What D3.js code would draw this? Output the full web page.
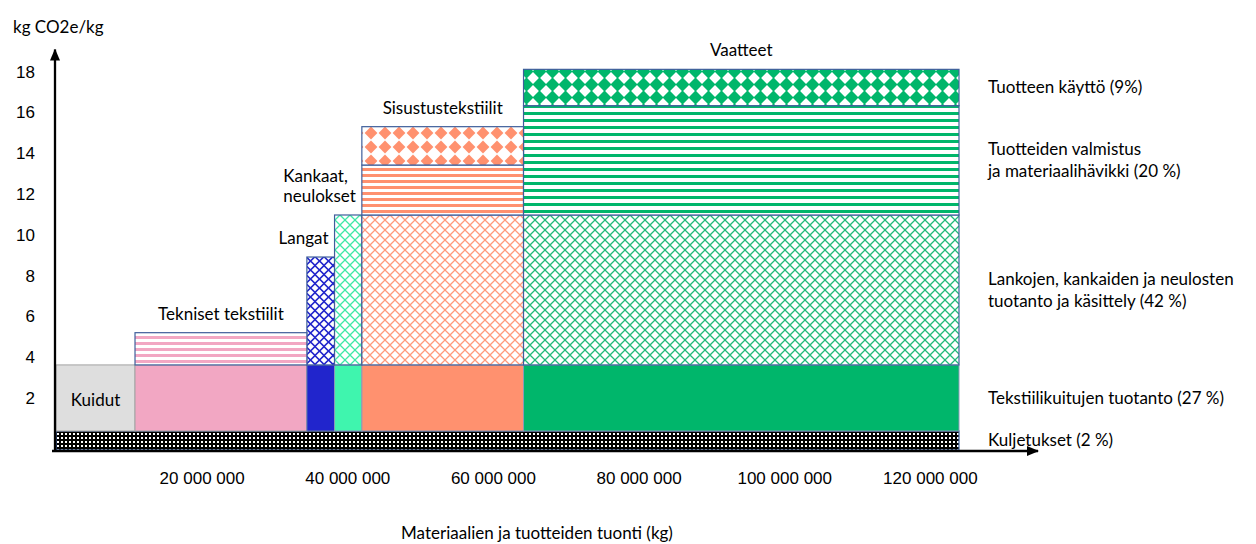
<!DOCTYPE html>
<html lang="fi">
<head>
<meta charset="utf-8">
<script src="https://cdn.jsdelivr.net/npm/d3@7"></script>
<style>
  html, body { margin: 0; padding: 0; background: #fff; }
  svg { display: block; font-family: Lato, "Noto Sans", sans-serif; }
</style>
</head>
<body>
<div id="chart"></div>
<script>
// product groups along the x axis
const categories = ["Kuidut", "Tekniset tekstiilit", "Langat", "Kankaat, neulokset", "Sisustustekstiilit", "Vaatteet"]
const categoryLines = [["Kuidut"], ["Tekniset tekstiilit"], ["Langat"], ["Kankaat,", "neulokset"], ["Sisustustekstiilit"], ["Vaatteet"]]

// imports per group (kg) -> block widths
const imports = [10.85e6, 23.6e6, 3.8e6, 3.75e6, 22.2e6, 59.8e6]

// emission layers per group (kg CO2e/kg) -> stacked heights
const fibre = [3.24, 3.24, 3.24, 3.24, 3.24, 3.24]
const yarn = [0, 0, 5.29, 7.35, 7.35, 7.35]
const making = [0, 1.58, 0, 0, 2.45, 5.36]
const use = [0, 0, 0, 0, 1.88, 1.78]

// transport band running under every group
const transportBottom = -0.55
const transportTop = 0.38

const layerKeys = ["fibre", "yarn", "making", "use"]
const legendLabels = {
  use: ["Tuotteen käyttö (9%)"],
  making: ["Tuotteiden valmistus", "ja materiaalihävikki (20 %)"],
  yarn: ["Lankojen, kankaiden ja neulosten", "tuotanto ja käsittely (42 %)"],
  fibre: ["Tekstiilikuitujen tuotanto (27 %)"],
  transport: ["Kuljetukset (2 %)"]
}

const yTicks = [2, 4, 6, 8, 10, 12, 14, 16, 18]
const xTicks = [20e6, 40e6, 60e6, 80e6, 100e6, 120e6]

// styles
const catColors = ["#dedede", "#f2a7c3", "#2125cc", "#3ff5ae", "#ff916f", "#00b66b"]
const latticeColors = ["#dedede", "#f2a7c3", "#2125cc", "#3ee8a6", "#ff9a7b", "#22b97a"]
const solidStrokes = ["#a3a3a3", "#a3a3a3", "#6f7fa8", "#8a9ab8", "#8a9ab8", "#8a9ab8"]
const patternStroke = "#3f5f9b"

const width = 1256
const height = 544
const fontSize = 17

const svg = d3.select("#chart")
  .append("svg")
  .attr("width", width)
  .attr("height", height)
  .attr("viewBox", `0 0 ${width} ${height}`)

const total = d3.sum(imports)
const x = d3.scaleLinear().domain([0, total]).range([56, 959])
const y = d3.scaleLinear().domain([-0.6, 18]).range([451, 71.6])

const starts = imports.map((v, i) => d3.sum(imports.slice(0, i)))

// ---- patterns
const defs = svg.append("defs")

const dots = defs.append("pattern").attr("id", "dots")
  .attr("patternUnits", "userSpaceOnUse").attr("width", 4).attr("height", 4)
dots.append("rect").attr("width", 4).attr("height", 4).attr("fill", "#000")
dots.append("rect").attr("x", 1).attr("y", 1).attr("width", 2).attr("height", 2).attr("fill", "#fff")

function lattice(id, color, size, w) {
  const p = defs.append("pattern").attr("id", id)
    .attr("patternUnits", "userSpaceOnUse").attr("width", size).attr("height", size)
  p.append("rect").attr("width", size).attr("height", size).attr("fill", "#fff")
  const h = size / 2
  p.append("path")
    .attr("d", `M${h},0L${size},${h}L${h},${size}L0,${h}Z`)
    .attr("fill", "none").attr("stroke", color).attr("stroke-width", w)
}

function stripes(id, color, period, thick) {
  const p = defs.append("pattern").attr("id", id)
    .attr("patternUnits", "userSpaceOnUse").attr("width", 8).attr("height", period)
  p.append("rect").attr("width", 8).attr("height", period).attr("fill", "#fff")
  p.append("rect").attr("width", 8).attr("height", thick).attr("fill", color)
}

function diamonds(id, color, size, r) {
  const p = defs.append("pattern").attr("id", id)
    .attr("patternUnits", "userSpaceOnUse").attr("width", size).attr("height", size)
  p.append("rect").attr("width", size).attr("height", size).attr("fill", "#fff")
  const h = size / 2
  p.append("path")
    .attr("d", `M${h},${h - r}L${h + r},${h}L${h},${h + r}L${h - r},${h}Z`)
    .attr("fill", color)
}

categories.forEach((c, i) => {
  lattice(`yarn-${i}`, latticeColors[i], i === 2 ? 9 : 10, i === 2 ? 1.6 : 1.25)
  stripes(`making-${i}`, catColors[i], i === 5 ? 7 : 6, 3)
  diamonds(`use-${i}`, catColors[i], i === 5 ? 13 : 14, i === 5 ? 7.1 : 6.4)
})

function fillFor(key, i) {
  if (key === "fibre") return catColors[i]
  return `url(#${key}-${i})`
}

// ---- transport band
svg.append("rect")
  .attr("x", x(0))
  .attr("y", y(transportTop))
  .attr("width", x(total) - x(0))
  .attr("height", y(transportBottom) - y(transportTop))
  .attr("fill", "url(#dots)")
  .attr("stroke", patternStroke)
  .attr("stroke-width", 1.2)

// ---- stacked blocks
const rows = categories.map((c, i) => ({
  i, category: c, fibre: fibre[i], yarn: yarn[i], making: making[i], use: use[i]
}))
const series = d3.stack().keys(layerKeys)(rows)

series.forEach(s => {
  svg.append("g")
    .selectAll("rect")
    .data(s.filter(d => d[1] - d[0] > 0))
    .join("rect")
    .attr("x", d => x(starts[d.data.i]))
    .attr("width", d => x(starts[d.data.i] + imports[d.data.i]) - x(starts[d.data.i]))
    .attr("y", d => y(transportTop + d[1]))
    .attr("height", d => y(transportTop + d[0]) - y(transportTop + d[1]))
    .attr("fill", d => fillFor(s.key, d.data.i))
    .attr("stroke", d => s.key === "fibre" ? solidStrokes[d.data.i] : patternStroke)
    .attr("stroke-width", s.key === "fibre" ? 1 : 1.2)
})

// ---- axes (arrows)
const arrow = defs.append("marker").attr("id", "arrow")
  .attr("markerUnits", "userSpaceOnUse")
  .attr("markerWidth", 12).attr("markerHeight", 10)
  .attr("refX", 11).attr("refY", 5).attr("orient", "auto")
arrow.append("path").attr("d", "M0,0L12,5L0,10Z").attr("fill", "#000")

svg.append("line")
  .attr("x1", x(0) - 1).attr("x2", x(0) - 1)
  .attr("y1", y.range()[0] + 1).attr("y2", y.range()[1] - 22)
  .attr("stroke", "#000").attr("stroke-width", 2.3)
  .attr("marker-end", "url(#arrow)")

svg.append("line")
  .attr("x1", x(0) - 4).attr("x2", x.range()[1] + 79)
  .attr("y1", y.range()[0]).attr("y2", y.range()[0])
  .attr("stroke", "#000").attr("stroke-width", 2.3)
  .attr("marker-end", "url(#arrow)")

const fi = d3.formatLocale({ decimal: ",", thousands: "\u00a0", grouping: [3], currency: ["", " €"] })

svg.append("g")
  .attr("transform", `translate(${x(0) - 1},0)`)
  .call(d3.axisLeft(y).tickValues(yTicks).tickSize(0).tickPadding(20).tickFormat(d3.format("d")))
  .call(g => g.select(".domain").remove())
  .call(g => g.selectAll("text").attr("font-size", fontSize).attr("font-family", null).attr("fill", "#000"))

svg.append("g")
  .attr("transform", `translate(0,${y.range()[0]})`)
  .call(d3.axisBottom(x).tickValues(xTicks).tickSize(0).tickPadding(21).tickFormat(fi.format(",")))
  .call(g => g.select(".domain").remove())
  .call(g => g.selectAll("text").attr("font-size", fontSize).attr("font-family", null).attr("fill", "#000"))

svg.append("text")
  .attr("x", 13).attr("y", 27).attr("dy", "0.35em")
  .attr("font-size", fontSize)
  .text("kg CO2e/kg")

svg.append("text")
  .attr("x", 537).attr("y", 533).attr("dy", "0.35em")
  .attr("text-anchor", "middle")
  .attr("font-size", fontSize)
  .text("Materiaalien ja tuotteiden tuonti (kg)")

// ---- group labels
const lineH = 20
rows.forEach(r => {
  const i = r.i
  const x0 = x(starts[i])
  const x1 = x(starts[i] + imports[i])
  const top = transportTop + fibre[i] + yarn[i] + making[i] + use[i]
  const lines = categoryLines[i]
  const onlyFibre = yarn[i] + making[i] + use[i] === 0

  if (onlyFibre) {
    svg.append("text")
      .attr("x", (x0 + x1) / 2)
      .attr("y", (y(transportTop) + y(top)) / 2 + 2)
      .attr("dy", "0.35em")
      .attr("text-anchor", "middle")
      .attr("font-size", fontSize)
      .text(lines[0])
    return
  }

  const t = svg.append("text").attr("font-size", fontSize)
  lines.forEach((l, k) => {
    t.append("tspan")
      .attr("y", y(top) - 13 - (lines.length - 1 - k) * lineH)
      .text(l)
  })
  if (x1 - x0 > 100) {
    t.attr("text-anchor", "middle").selectAll("tspan").attr("x", (x0 + x1) / 2)
  } else {
    const w = d3.max(t.selectAll("tspan").nodes(), n => n.getComputedTextLength())
    t.selectAll("tspan").attr("x", x1 - 6 - w)
  }
})

// ---- legend at the right, beside the widest group's layers
const last = series.map(s => s[s.length - 1])
const legendX = 988
function legend(lines, cy) {
  const t = svg.append("text").attr("font-size", fontSize)
  lines.forEach((l, k) => {
    t.append("tspan")
      .attr("x", legendX)
      .attr("y", cy + (k - (lines.length - 1) / 2) * 22)
      .attr("dy", "0.35em")
      .text(l)
  })
}
series.forEach((s, k) => {
  const d = last[k]
  legend(legendLabels[s.key], (y(transportTop + d[0]) + y(transportTop + d[1])) / 2)
})
legend(legendLabels.transport, (y(transportTop) + y(transportBottom)) / 2)
</script>
</body>
</html>
